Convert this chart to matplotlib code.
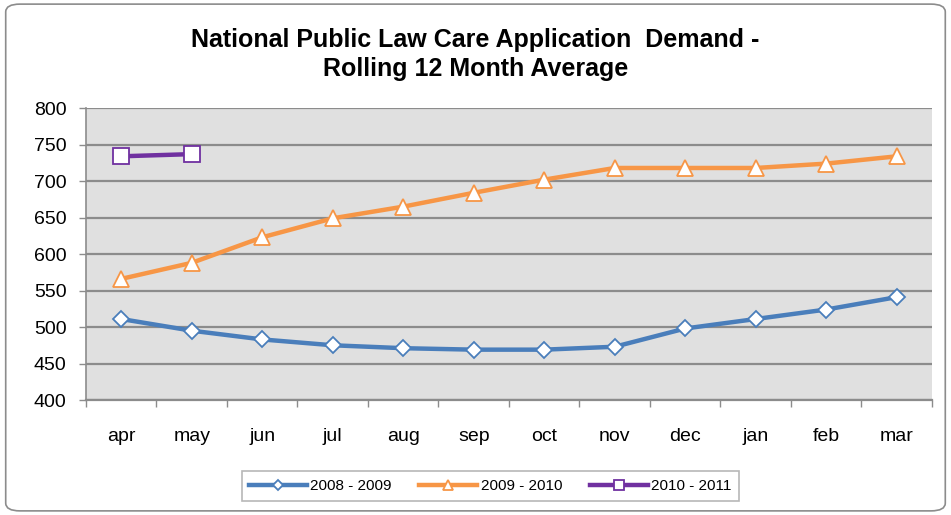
import matplotlib.pyplot as plt
from matplotlib.patches import FancyBboxPatch

plt.rcParams['font.family'] = ['Liberation Sans', 'DejaVu Sans']

months = ['apr', 'may', 'jun', 'jul', 'aug', 'sep', 'oct', 'nov', 'dec', 'jan', 'feb', 'mar']
y0809 = [511, 495, 483, 475, 471, 469, 469, 473, 498, 511, 524, 541]
y0910 = [566, 588, 623, 649, 665, 684, 702, 718, 718, 718, 724, 734]
y1011 = [734, 737]

fig = plt.figure(figsize=(9.51, 5.15), dpi=100)
# rounded outer border
fig.patches.append(FancyBboxPatch((0.006, 0.008), 0.988, 0.984, boxstyle='round,pad=0,rounding_size=0.015',
                                  transform=fig.transFigure, fc='white', ec='#8c8c8c', lw=1.2, zorder=-1))

ax = fig.add_axes([0.0904, 0.2233, 0.8896, 0.5667])
ax.set_facecolor('#e0e0e0')

x = list(range(len(months)))
ax.plot(x, y0809, color='#4a7ebb', lw=3.2, marker='D', ms=8, mfc='white', mec='#4a7ebb', mew=1.3,
        label='2008 - 2009', zorder=3)
ax.plot(x, y0910, color='#f79646', lw=3.2, marker='^', ms=11, mfc='white', mec='#f79646', mew=1.3,
        label='2009 - 2010', zorder=3)
ax.plot(x[:len(y1011)], y1011, color='#7030a0', lw=3.2, marker='s', ms=11, mfc='white', mec='#7030a0', mew=1.3,
        label='2010 - 2011', zorder=3)

ax.set_xlim(-0.5, 11.5)
ax.set_ylim(400, 800)
ax.set_yticks(range(400, 801, 50))
ax.set_xticks(x)
ax.set_xticklabels(months, fontsize=14)
ax.set_xticks([i - 0.5 for i in range(13)], minor=True)
ax.tick_params(axis='x', which='major', length=0, pad=20)
ax.tick_params(axis='x', which='minor', length=5, color='#8c8c8c', width=1)
ax.tick_params(axis='y', labelsize=14, length=5, color='#8c8c8c', width=1, pad=9)
ax.grid(axis='y', color='#8c8c8c', lw=1.6)
ax.set_axisbelow(True)
for s in ['top', 'right']:
    ax.spines[s].set_visible(False)
ax.spines['left'].set_color('#8c8c8c')
ax.spines['bottom'].set_color('#8c8c8c')
ax.spines['left'].set_linewidth(1.2)
ax.spines['bottom'].set_linewidth(1.6)

fig.text(0.5, 0.894, 'National Public Law Care Application  Demand -\nRolling 12 Month Average',
         ha='center', va='center', fontsize=18, fontweight='bold', linespacing=1.3)

leg = fig.legend(loc='center', bbox_to_anchor=(0.5154, 0.0563), ncol=3, fontsize=11, frameon=True,
                 fancybox=False, edgecolor='#a6a6a6', handlelength=3.8, columnspacing=1.8, handletextpad=0.2,
                 borderpad=0.5, markerscale=0.7)
leg.get_frame().set_linewidth(1.2)

fig.savefig('out.png', dpi=100)
